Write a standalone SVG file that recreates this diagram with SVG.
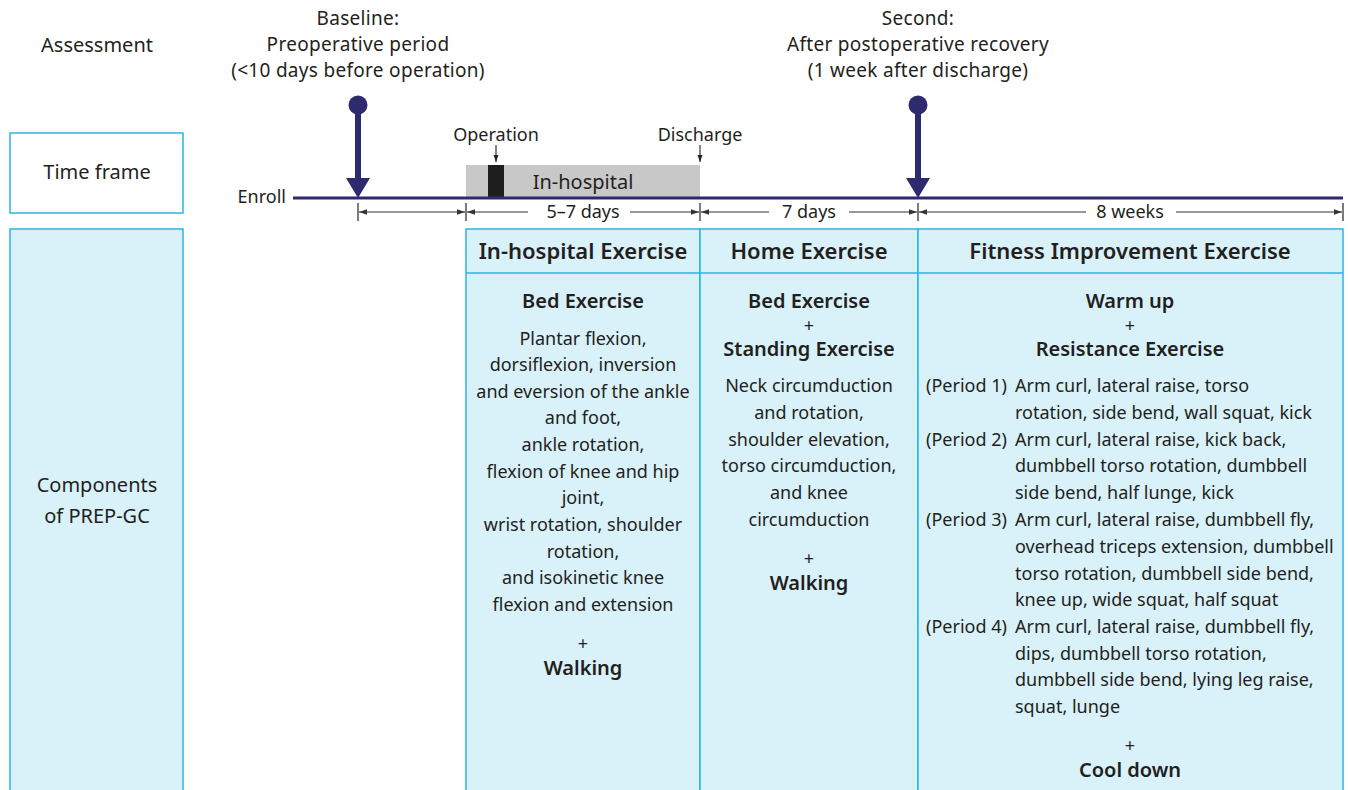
<svg xmlns="http://www.w3.org/2000/svg" width="1348" height="790" viewBox="0 0 1348 790">
<defs>
<style>
text{font-family:"Noto Sans","Open Sans","Liberation Sans",sans-serif;fill:#231f20;font-size:18px}
.c{text-anchor:middle}
.b{font-weight:600;font-size:20px}
.h{font-size:22px;font-weight:600}
.lbl{font-size:20px}
.top{font-size:19px;letter-spacing:0.3px}
.box{fill:#d9f1f9;stroke:#29b5e8;stroke-width:1.5}
.box2{fill:#fff;stroke:#29b5e8;stroke-width:1.5}
.dim{stroke:#333;stroke-width:1.2;fill:none}
.tick{stroke:#333;stroke-width:1.3}
.nv{fill:#2e2a6e}
</style>
<marker id="ah" viewBox="0 0 10 10" refX="10" refY="5" markerWidth="8" markerHeight="8" markerUnits="userSpaceOnUse" orient="auto"><path d="M0,1.5 L10,5 L0,8.5 z" fill="#333"/></marker>
<marker id="ad" viewBox="0 0 10 10" refX="10" refY="5" markerWidth="7" markerHeight="7" markerUnits="userSpaceOnUse" orient="auto"><path d="M0,1.5 L10,5 L0,8.5 z" fill="#231f20"/></marker>
</defs>

<g id="assessment-label"><text class="c lbl" x="97" y="52">Assessment</text></g>

<g id="timeframe-label">
<rect class="box2" x="10" y="133" width="173" height="80"/>
<text class="c lbl" x="97" y="179">Time frame</text>
</g>

<g id="components-label">
<rect class="box" x="10" y="229" width="173" height="570"/>
<text class="c lbl" x="97" y="492">Components</text>
<text class="c lbl" x="97" y="523">of PREP-GC</text>
</g>

<g id="baseline-assessment">
<text class="c top" x="358" y="25">Baseline:</text>
<text class="c top" x="358" y="51">Preoperative period</text>
<text class="c top" x="358" y="77">(&lt;10 days before operation)</text>
<circle class="nv" cx="358" cy="105" r="9.5"/>
<rect class="nv" x="355" y="105" width="6" height="75"/>
<path class="nv" d="M346,178 L370,178 L358,198 z"/>
</g>

<g id="second-assessment">
<text class="c top" x="918" y="25">Second:</text>
<text class="c top" x="918" y="51">After postoperative recovery</text>
<text class="c top" x="918" y="77">(1 week after discharge)</text>
<circle class="nv" cx="918" cy="105" r="9.5"/>
<rect class="nv" x="915" y="105" width="6" height="75"/>
<path class="nv" d="M906,178 L930,178 L918,198 z"/>
</g>

<g id="in-hospital-bar">
<rect x="466" y="165" width="234" height="32" fill="#c8c8c8"/>
<rect x="488" y="165" width="16" height="32" fill="#1e1e1e"/>
<text class="c" x="583" y="189" style="font-size:20px">In-hospital</text>
</g>

<g id="operation-marker">
<text class="c" x="496" y="141">Operation</text>
</g>
<g id="discharge-marker">
<text class="c" x="700" y="141">Discharge</text>
</g>

<g id="timeline">
<text x="286" y="203" text-anchor="end">Enroll</text>
<line x1="293" y1="198" x2="1343" y2="198" stroke="#2e2a6e" stroke-width="3"/>
</g>

<g id="connectors">
<line x1="496" y1="145" x2="496" y2="162" class="dim" stroke="#231f20" marker-end="url(#ad)"/>
<line x1="700" y1="145" x2="700" y2="162" class="dim" stroke="#231f20" marker-end="url(#ad)"/>
<line class="tick" x1="358" y1="203" x2="358" y2="221"/>
<line class="tick" x1="466" y1="203" x2="466" y2="221"/>
<line class="tick" x1="700" y1="203" x2="700" y2="221"/>
<line class="tick" x1="918" y1="203" x2="918" y2="221"/>
<line class="tick" x1="1343" y1="203" x2="1343" y2="221"/>
<line class="dim" x1="412" y1="212" x2="359" y2="212" marker-end="url(#ah)"/>
<line class="dim" x1="412" y1="212" x2="465" y2="212" marker-end="url(#ah)"/>
<line class="dim" x1="528" y1="212" x2="467" y2="212" marker-end="url(#ah)"/>
<line class="dim" x1="630" y1="212" x2="699" y2="212" marker-end="url(#ah)"/>
<line class="dim" x1="769" y1="212" x2="701" y2="212" marker-end="url(#ah)"/>
<line class="dim" x1="849" y1="212" x2="917" y2="212" marker-end="url(#ah)"/>
<line class="dim" x1="1086" y1="212" x2="919" y2="212" marker-end="url(#ah)"/>
<line class="dim" x1="1176" y1="212" x2="1342" y2="212" marker-end="url(#ah)"/>
<line x1="965" y1="404" x2="965" y2="423" class="dim" stroke="#231f20" marker-end="url(#ad)"/>
<line x1="965" y1="455" x2="965" y2="498" class="dim" stroke="#231f20" marker-end="url(#ad)"/>
<line x1="965" y1="538" x2="965" y2="609" class="dim" stroke="#231f20" marker-end="url(#ad)"/>
</g>

<g id="durations">
<text class="c" x="583" y="218">5–7 days</text>
<text class="c" x="809" y="218">7 days</text>
<text class="c" x="1130" y="218">8 weeks</text>
</g>

<g id="in-hospital-exercise">
<rect class="box" x="466" y="229" width="234" height="570"/>
<line x1="466" y1="273" x2="700" y2="273" stroke="#29b5e8" stroke-width="1.5"/>
<text class="c h" x="583" y="259">In-hospital Exercise</text>
<text class="c b" x="583" y="308">Bed Exercise</text>
<text class="c" x="583" y="345">Plantar flexion,</text>
<text class="c" x="583" y="371">dorsiflexion, inversion</text>
<text class="c" x="583" y="398">and eversion of the ankle</text>
<text class="c" x="583" y="424">and foot,</text>
<text class="c" x="583" y="451">ankle rotation,</text>
<text class="c" x="583" y="478">flexion of knee and hip</text>
<text class="c" x="583" y="504">joint,</text>
<text class="c" x="583" y="531">wrist rotation, shoulder</text>
<text class="c" x="583" y="558">rotation,</text>
<text class="c" x="583" y="584">and isokinetic knee</text>
<text class="c" x="583" y="611">flexion and extension</text>
<text class="c" x="583" y="650">+</text>
<text class="c b" x="583" y="675">Walking</text>
</g>

<g id="home-exercise">
<rect class="box" x="700" y="229" width="218" height="570"/>
<line x1="700" y1="273" x2="918" y2="273" stroke="#29b5e8" stroke-width="1.5"/>
<text class="c h" x="809" y="259">Home Exercise</text>
<text class="c b" x="809" y="308">Bed Exercise</text>
<text class="c" x="809" y="332">+</text>
<text class="c b" x="809" y="356">Standing Exercise</text>
<text class="c" x="809" y="392">Neck circumduction</text>
<text class="c" x="809" y="419">and rotation,</text>
<text class="c" x="809" y="446">shoulder elevation,</text>
<text class="c" x="809" y="472">torso circumduction,</text>
<text class="c" x="809" y="499">and knee</text>
<text class="c" x="809" y="526">circumduction</text>
<text class="c" x="809" y="565">+</text>
<text class="c b" x="809" y="590">Walking</text>
</g>

<g id="fitness-exercise">
<rect class="box" x="918" y="229" width="425" height="570"/>
<line x1="918" y1="273" x2="1343" y2="273" stroke="#29b5e8" stroke-width="1.5"/>
<text class="c h" x="1130" y="259">Fitness Improvement Exercise</text>
<text class="c b" x="1130" y="308">Warm up</text>
<text class="c" x="1130" y="332">+</text>
<text class="c b" x="1130" y="356">Resistance Exercise</text>
<text x="926" y="392">(Period 1)</text>
<text x="926" y="446">(Period 2)</text>
<text x="926" y="526">(Period 3)</text>
<text x="926" y="633">(Period 4)</text>
<text x="1015" y="392">Arm curl, lateral raise, torso</text>
<text x="1015" y="419">rotation, side bend, wall squat, kick</text>
<text x="1015" y="446">Arm curl, lateral raise, kick back,</text>
<text x="1015" y="472">dumbbell torso rotation, dumbbell</text>
<text x="1015" y="499">side bend, half lunge, kick</text>
<text x="1015" y="526">Arm curl, lateral raise, dumbbell fly,</text>
<text x="1015" y="553">overhead triceps extension, dumbbell</text>
<text x="1015" y="580">torso rotation, dumbbell side bend,</text>
<text x="1015" y="606">knee up, wide squat, half squat</text>
<text x="1015" y="633">Arm curl, lateral raise, dumbbell fly,</text>
<text x="1015" y="660">dips, dumbbell torso rotation,</text>
<text x="1015" y="686">dumbbell side bend, lying leg raise,</text>
<text x="1015" y="713">squat, lunge</text>
<text class="c" x="1130" y="752">+</text>
<text class="c b" x="1130" y="777">Cool down</text>
</g>
</svg>
